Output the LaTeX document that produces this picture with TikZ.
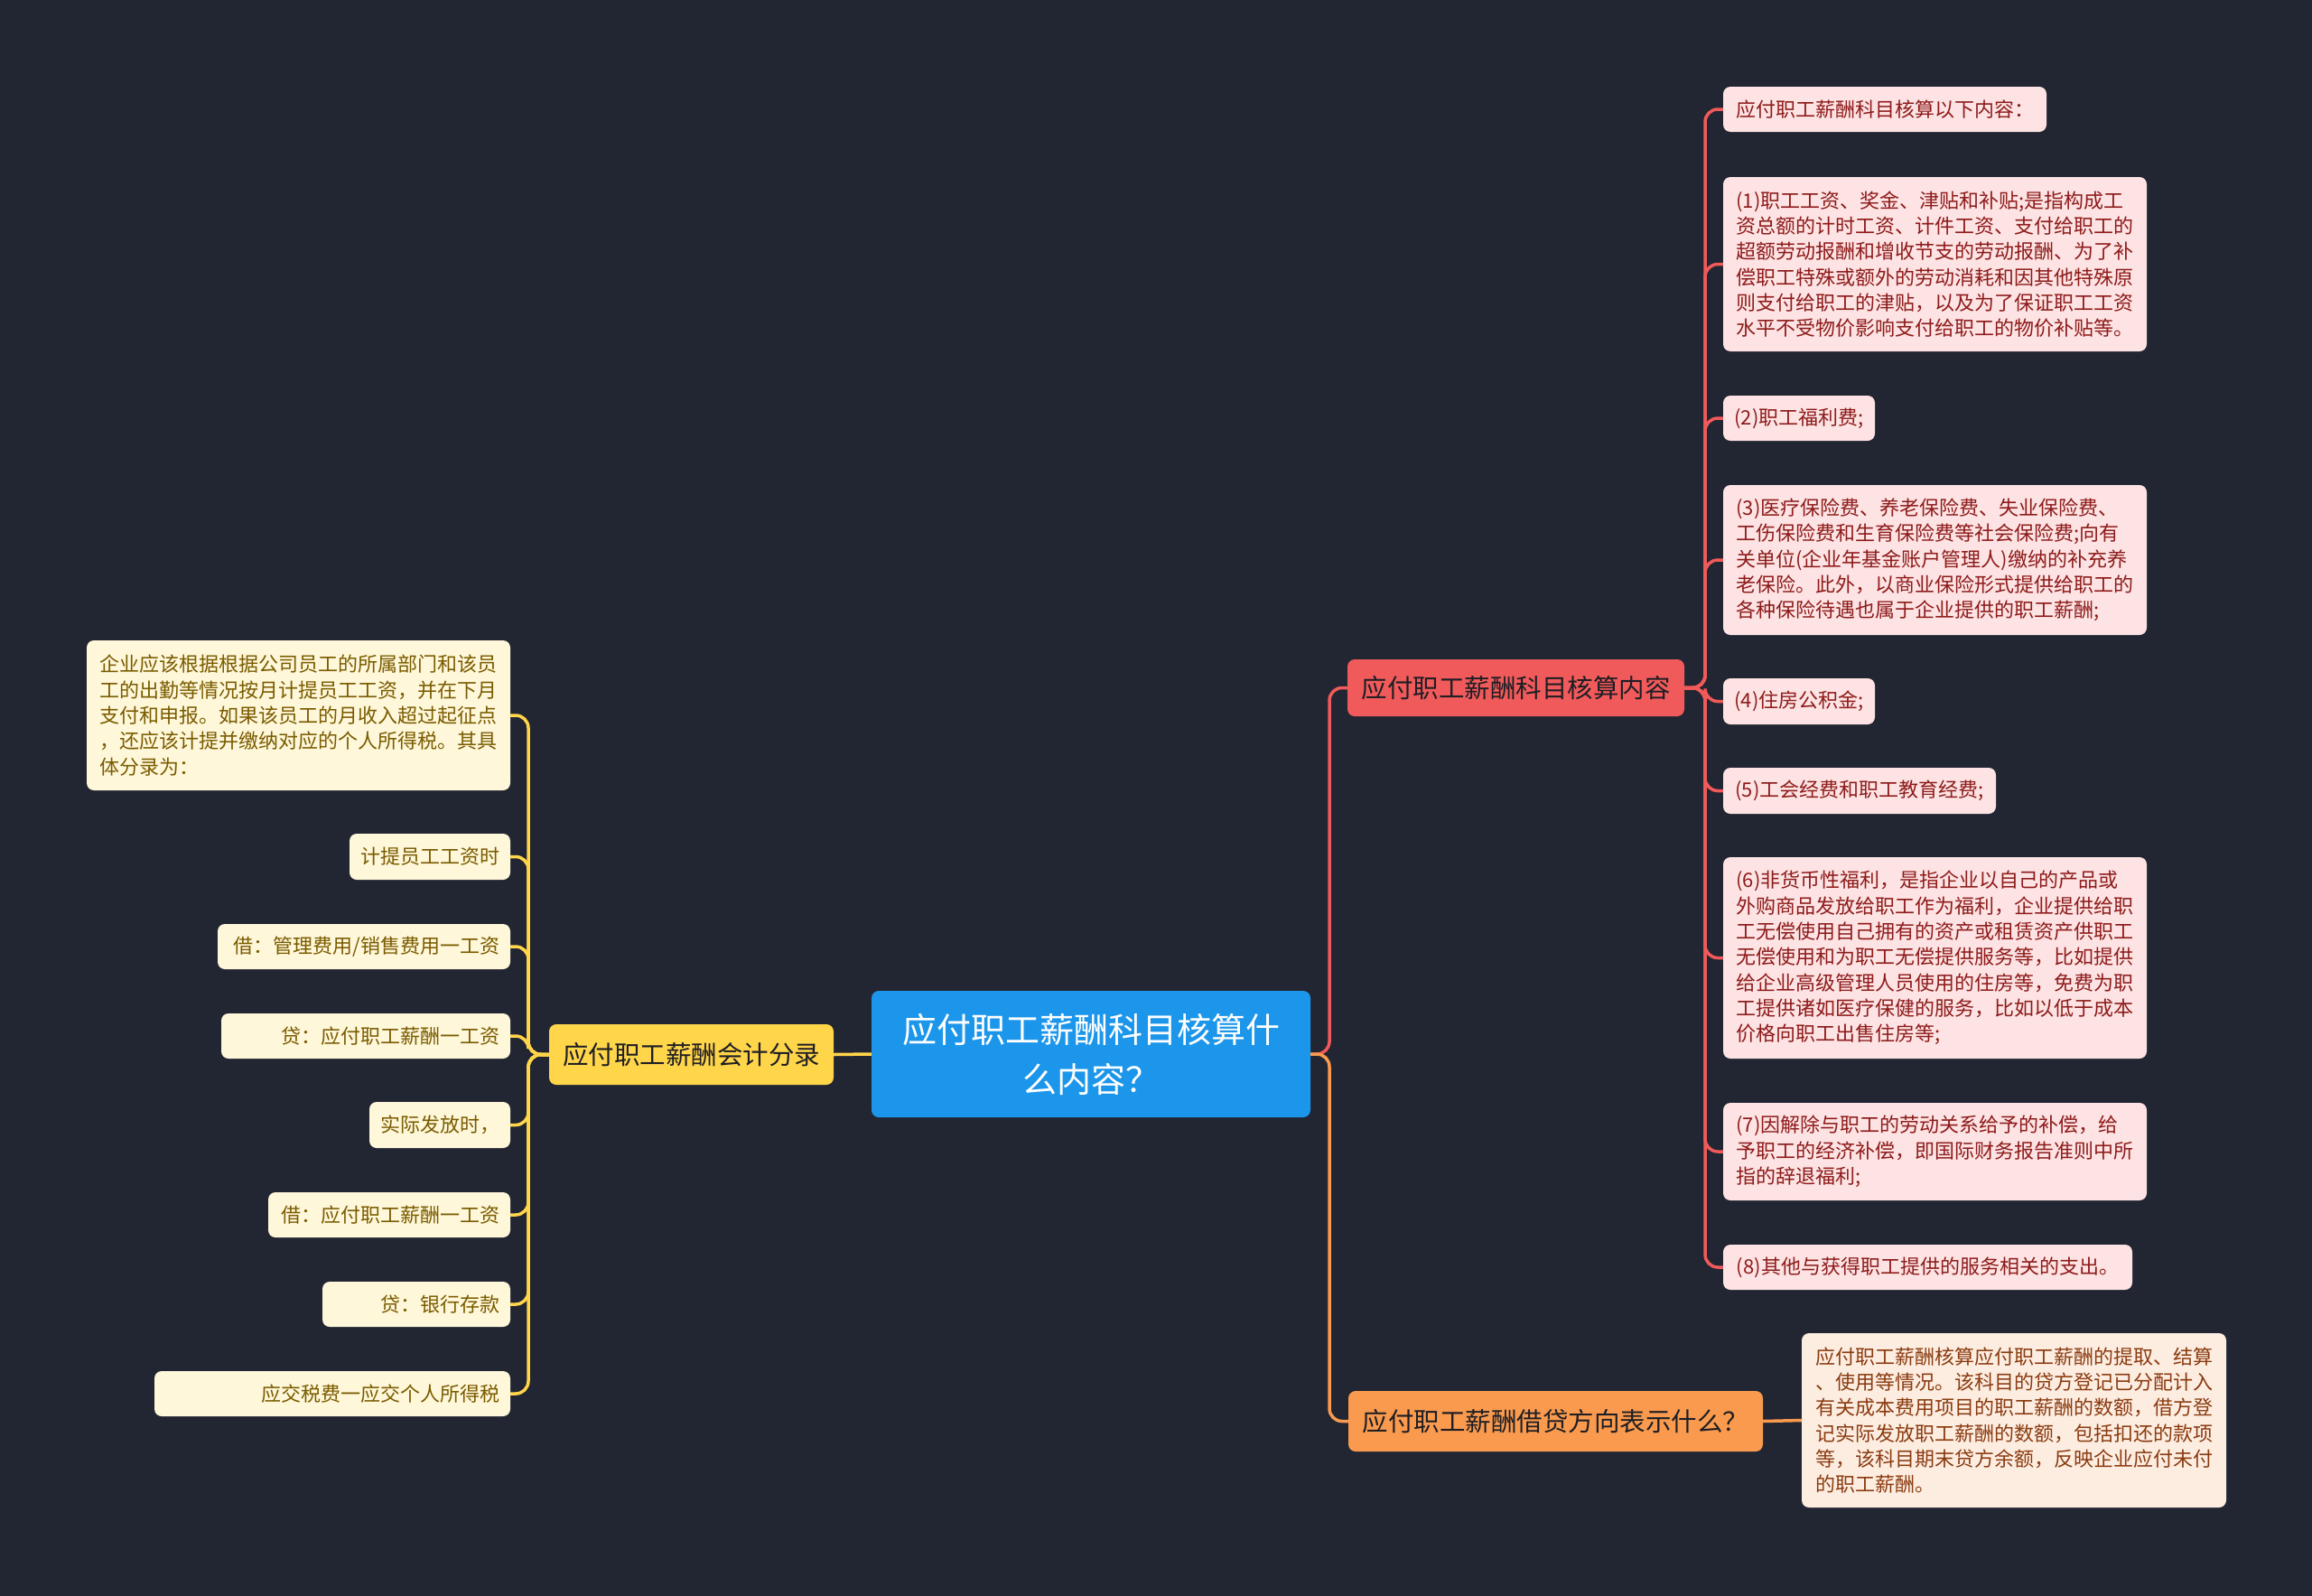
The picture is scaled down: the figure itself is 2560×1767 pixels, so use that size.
\documentclass[tikz,border=0pt]{standalone}
\usepackage{fontspec}
\setmainfont{Noto Sans CJK SC}

\definecolor{bgcol}{HTML}{222532}
\definecolor{rootblue}{HTML}{1C96EA}
\definecolor{redbr}{HTML}{F05A5A}
\definecolor{redleaf}{HTML}{FDE3E3}
\definecolor{redtext}{HTML}{8E1B1B}
\definecolor{orabr}{HTML}{F99A4E}
\definecolor{oraleaf}{HTML}{FDEDE1}
\definecolor{oratext}{HTML}{8A3B10}
\definecolor{yelbr}{HTML}{FFD54A}
\definecolor{yelleaf}{HTML}{FEF7D9}
\definecolor{yeltext}{HTML}{7A5B00}
\definecolor{darktext}{HTML}{1E1E24}

\tikzset{
  box/.style={rounded corners=8, inner xsep=12, inner ysep=0},
  rootbox/.style={box, fill=rootblue, text=white, align=center,
    font=\fontsize{38}{55}\selectfont},
  brbox/.style={box, text=darktext, font=\fontsize{28.5}{36}\selectfont},
  leaf/.style={box, font=\fontsize{22}{28.3}\selectfont},
  rleaf/.style={leaf, fill=redleaf, text=redtext, align=left},
  oleaf/.style={leaf, fill=oraleaf, text=oratext, align=left},
  yleaf/.style={leaf, fill=yelleaf, text=yeltext},
  link/.style={line width=3.5, rounded corners=14},
}

\begin{document}
\begin{tikzpicture}[x=1pt,y=-1pt]
  % canvas
  \useasboundingbox (0,0) rectangle (2560,1767);
  \fill[bgcol] (0,0) rectangle (2560,1767);

  % centre
  \node[rootbox, minimum width=486, minimum height=140] (root) at (1208,1167)
    {应付职工薪酬科目核算什\\么内容？};

  % branches
  \node[brbox, fill=redbr, minimum width=373, minimum height=63] (rbr) at (1678.5,761.5)
    {应付职工薪酬科目核算内容};
  \node[brbox, fill=orabr, minimum width=459, minimum height=67] (obr) at (1722.5,1573.5)
    {应付职工薪酬借贷方向表示什么？};
  \node[brbox, fill=yelbr, minimum width=315, minimum height=67] (ybr) at (765.5,1167.5)
    {应付职工薪酬会计分录};

  % red leaves
  \node[rleaf, minimum width=358, minimum height=50] (r0) at (2087,121)
    {应付职工薪酬科目核算以下内容：};
  \node[rleaf, minimum width=469, minimum height=193] (r1) at (2142.5,292.5)
    {(1)职工工资、奖金、津贴和补贴;是指构成工\\
     资总额的计时工资、计件工资、支付给职工的\\
     超额劳动报酬和增收节支的劳动报酬、为了补\\
     偿职工特殊或额外的劳动消耗和因其他特殊原\\
     则支付给职工的津贴，以及为了保证职工工资\\
     水平不受物价影响支付给职工的物价补贴等。};
  \node[rleaf, minimum width=168, minimum height=50] (r2) at (1992,463)
    {(2)职工福利费;};
  \node[rleaf, minimum width=469, minimum height=166] (r3) at (2142.5,620)
    {(3)医疗保险费、养老保险费、失业保险费、\\
     工伤保险费和生育保险费等社会保险费;向有\\
     关单位(企业年基金账户管理人)缴纳的补充养\\
     老保险。此外，以商业保险形式提供给职工的\\
     各种保险待遇也属于企业提供的职工薪酬;};
  \node[rleaf, minimum width=168, minimum height=51] (r4) at (1992,776.5)
    {(4)住房公积金;};
  \node[rleaf, minimum width=302, minimum height=51] (r5) at (2059,875.5)
    {(5)工会经费和职工教育经费;};
  \node[rleaf, minimum width=469, minimum height=223] (r6) at (2142.5,1060.5)
    {(6)非货币性福利，是指企业以自己的产品或\\
     外购商品发放给职工作为福利，企业提供给职\\
     工无偿使用自己拥有的资产或租赁资产供职工\\
     无偿使用和为职工无偿提供服务等，比如提供\\
     给企业高级管理人员使用的住房等，免费为职\\
     工提供诸如医疗保健的服务，比如以低于成本\\
     价格向职工出售住房等;};
  \node[rleaf, minimum width=469, minimum height=108] (r7) at (2142.5,1275)
    {(7)因解除与职工的劳动关系给予的补偿，给\\
     予职工的经济补偿，即国际财务报告准则中所\\
     指的辞退福利;};
  \node[rleaf, minimum width=453, minimum height=50] (r8) at (2134.5,1403)
    {(8)其他与获得职工提供的服务相关的支出。};

  % orange leaf
  \node[oleaf, minimum width=470, minimum height=193] (o1) at (2230,1572.5)
    {应付职工薪酬核算应付职工薪酬的提取、结算\\
     、使用等情况。该科目的贷方登记已分配计入\\
     有关成本费用项目的职工薪酬的数额，借方登\\
     记实际发放职工薪酬的数额，包括扣还的款项\\
     等，该科目期末贷方余额，反映企业应付未付\\
     的职工薪酬。};

  % yellow leaves
  \node[yleaf, align=left, minimum width=469, minimum height=166] (y0) at (330.5,792)
    {企业应该根据根据公司员工的所属部门和该员\\
     工的出勤等情况按月计提员工工资，并在下月\\
     支付和申报。如果该员工的月收入超过起征点\\
     ，还应该计提并缴纳对应的个人所得税。其具\\
     体分录为：};
  \node[yleaf, text width=154, align=right, minimum height=51] (y1) at (476,948.5)
    {计提员工工资时};
  \node[yleaf, text width=300, align=right, minimum height=50] (y2) at (403,1048)
    {借：管理费用/销售费用一工资};
  \node[yleaf, text width=296, align=right, minimum height=50] (y3) at (405,1147)
    {贷：应付职工薪酬一工资};
  \node[yleaf, text width=132, align=right, minimum height=51] (y4) at (487,1245.5)
    {实际发放时，};
  \node[yleaf, text width=244, align=right, minimum height=50] (y5) at (431,1345)
    {借：应付职工薪酬一工资};
  \node[yleaf, text width=184, align=right, minimum height=50] (y6) at (461,1444)
    {贷：银行存款};
  \node[yleaf, text width=370, align=right, minimum height=50] (y7) at (368,1543)
    {应交税费一应交个人所得税};

  % bends of the links
  \coordinate (otrunk) at (1472,1167);
  \coordinate (rtrunk) at (1888,761.5);
  \coordinate (ytrunk) at (585,1167.5);

  % links
  \draw[link, redbr] (root.east) -- (otrunk) |- (rbr.west);
  \draw[link, orabr] (root.east) -- (otrunk) |- (obr.west);
  \draw[link, yelbr] (root.west) -- (ybr.east);
  \draw[link, orabr] (obr.east) -- (o1.west);
  \foreach \n in {r0,r1,r2,r3,r4,r5,r6,r7,r8}
    \draw[link, redbr] (rbr.east) -- (rtrunk) |- (\n.west);
  \foreach \n in {y0,y1,y2,y3,y4,y5,y6,y7}
    \draw[link, yelbr] (ybr.west) -- (ytrunk) |- (\n.east);
\end{tikzpicture}
\end{document}
